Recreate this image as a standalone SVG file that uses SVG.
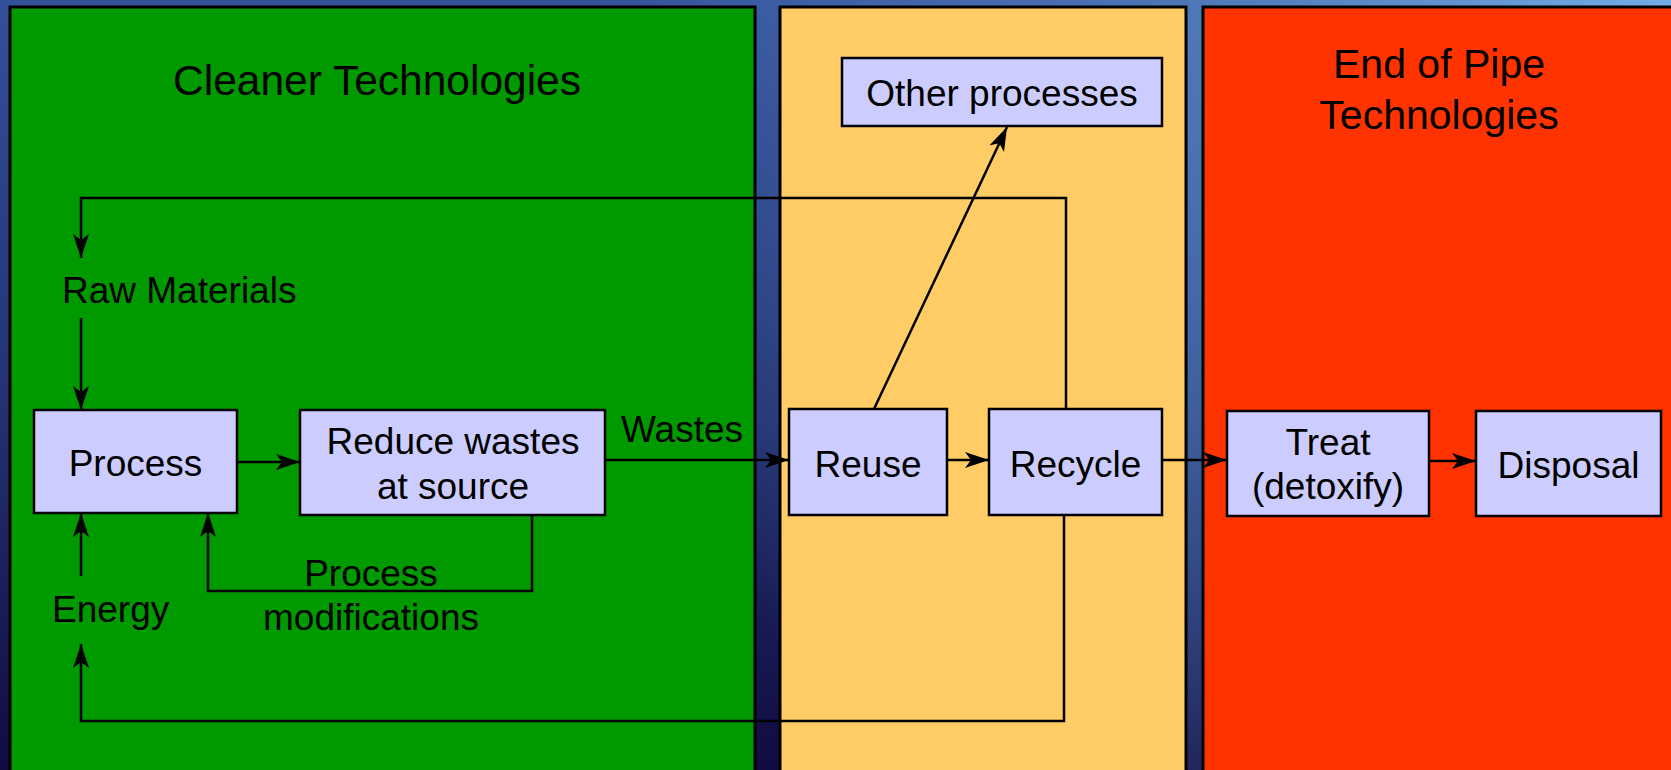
<svg xmlns="http://www.w3.org/2000/svg" width="1671" height="770" viewBox="0 0 1671 770">
  <defs>
    <linearGradient id="bgv" x1="0" y1="0" x2="0" y2="1">
      <stop offset="0" stop-color="#33509a"/>
      <stop offset="0.55" stop-color="#22306f"/>
      <stop offset="1" stop-color="#110b40"/>
    </linearGradient>
    <radialGradient id="bgr" cx="1671" cy="0" r="1100" gradientUnits="userSpaceOnUse">
      <stop offset="0" stop-color="#74aee6" stop-opacity="1"/>
      <stop offset="0.5" stop-color="#5a88c4" stop-opacity="0.6"/>
      <stop offset="1" stop-color="#5a88c4" stop-opacity="0"/>
    </radialGradient>
    <marker id="arr" markerUnits="userSpaceOnUse" markerWidth="26" markerHeight="18" refX="24" refY="8" orient="auto" viewBox="0 0 26 18">
      <path d="M0,0 L24,8 L0,16 L6,8 Z" fill="#000"/>
    </marker>
    <style>
      .panel { stroke: #000; stroke-width: 3; }
      .node rect { fill: #ccccff; stroke: #000; stroke-width: 2.5; }
      text { font-family: "Liberation Sans", Arial, sans-serif; fill: #000; }
      .t { font-size: 37px; }
      .c { text-anchor: middle; }
      .conn path { fill: none; stroke: #000; stroke-width: 2.5; }
      .a { marker-end: url(#arr); }
    </style>
  </defs>

  <rect x="0" y="0" width="1671" height="770" fill="url(#bgv)"/>
  <rect x="0" y="0" width="1671" height="770" fill="url(#bgr)"/>

  <g id="panels">
    <rect class="panel" x="10" y="7" width="745" height="780" fill="#009900"/>
    <rect class="panel" x="780" y="7" width="406" height="780" fill="#ffcc66"/>
    <rect class="panel" x="1203" y="7" width="480" height="780" fill="#ff3300"/>
    <text x="377" y="95" font-size="42.5" class="c">Cleaner Technologies</text>
    <text x="1439" y="78" font-size="41" class="c">End of Pipe</text>
    <text x="1439" y="129" font-size="41" class="c">Technologies</text>
  </g>

  <g id="connectors" class="conn">
    <path class="a" d="M237,462 H300"/>
    <path class="a" d="M605,460 H789"/>
    <path class="a" d="M947,460 H989"/>
    <path class="a" d="M1162,460 H1227"/>
    <path class="a" d="M1429,461 H1476"/>
    <path class="a" d="M874,409 L1007,127"/>
    <path class="a" d="M1066,409 V198 H81 V258"/>
    <path class="a" d="M81,318 V410"/>
    <path class="a" d="M81,576 V513"/>
    <path class="a" d="M1064,515 V721 H81 V644"/>
    <path class="a" d="M532,515 V591 H208 V513"/>
  </g>

  <g id="labels">
    <text class="t" x="621" y="442">Wastes</text>
    <text class="t" x="62" y="303">Raw Materials</text>
    <text class="t" x="52" y="622">Energy</text>
    <text class="t c" x="371" y="586">Process</text>
    <text class="t c" x="371" y="630">modifications</text>
  </g>

  <g id="node-process" class="node">
    <rect x="34" y="410" width="203" height="103"/>
    <text class="t c" x="135.5" y="476">Process</text>
  </g>
  <g id="node-reduce" class="node">
    <rect x="300" y="410" width="305" height="105"/>
    <text class="t c" x="453" y="454">Reduce wastes</text>
    <text class="t c" x="453" y="499">at source</text>
  </g>
  <g id="node-reuse" class="node">
    <rect x="789" y="409" width="158" height="106"/>
    <text class="t c" x="868" y="477">Reuse</text>
  </g>
  <g id="node-recycle" class="node">
    <rect x="989" y="409" width="173" height="106"/>
    <text class="t c" x="1075.5" y="477">Recycle</text>
  </g>
  <g id="node-treat" class="node">
    <rect x="1227" y="411" width="202" height="105"/>
    <text class="t c" x="1328" y="455">Treat</text>
    <text class="t c" x="1328" y="499">(detoxify)</text>
  </g>
  <g id="node-disposal" class="node">
    <rect x="1476" y="411" width="185" height="105"/>
    <text class="t c" x="1568.5" y="478">Disposal</text>
  </g>
  <g id="node-other" class="node">
    <rect x="842" y="58" width="320" height="68"/>
    <text class="t c" x="1002" y="106">Other processes</text>
  </g>
</svg>
